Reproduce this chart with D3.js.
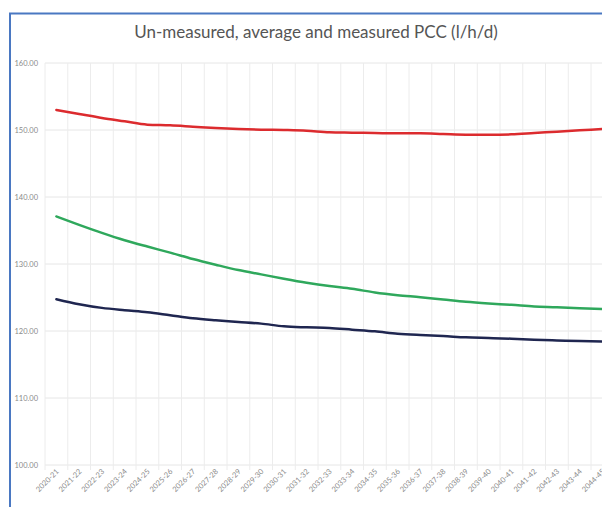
<!DOCTYPE html>
<html>
<head>
<meta charset="utf-8">
<script src="https://cdn.jsdelivr.net/npm/d3@7/dist/d3.min.js"></script>
<style>
  html, body { margin: 0; padding: 0; background: #fff; }
  svg { display: block; }
</style>
</head>
<body>
<svg id="chart" width="602" height="507"></svg>
<script>
// Financial years on the category axis
const years = [
  "2020-21","2021-22","2022-23","2023-24","2024-25","2025-26","2026-27","2027-28",
  "2028-29","2029-30","2030-31","2031-32","2032-33","2033-34","2034-35","2035-36",
  "2036-37","2037-38","2038-39","2039-40","2040-41","2041-42","2042-43","2043-44","2044-45"
];

// Per capita consumption, litres/head/day
const unmeasuredPCC = [
  153.0,152.4,151.8,151.3,150.8,150.7,150.5,150.3,150.15,150.05,150.0,149.9,
  149.65,149.6,149.55,149.5,149.5,149.4,149.3,149.3,149.35,149.55,149.75,149.95,150.15
];
const averagePCC = [
  137.1,135.85,134.65,133.55,132.6,131.7,130.75,129.9,129.1,128.45,127.8,127.2,
  126.7,126.3,125.75,125.35,125.05,124.7,124.35,124.1,123.9,123.65,123.55,123.4,123.3
];
const measuredPCC = [
  124.75,124.0,123.45,123.1,122.8,122.35,121.9,121.6,121.35,121.1,120.7,120.55,
  120.45,120.2,119.95,119.6,119.4,119.25,119.05,118.95,118.85,118.7,118.6,118.5,118.45
];

const yTicks = [100, 110, 120, 130, 140, 150, 160];
const titleText = "Un-measured, average and measured PCC (l/h/d)";

const seriesList = [
  { name: "Un-measured", values: unmeasuredPCC, color: "#dc2b2e" },
  { name: "Average", values: averagePCC, color: "#2fa85c" },
  { name: "Measured", values: measuredPCC, color: "#1f2650" }
];

const svg = d3.select("#chart");

svg.append("rect").attr("width", 602).attr("height", 507).attr("fill", "#fff");

// Chart frame (continues beyond the visible area on the right and bottom)
svg.append("path")
  .attr("d", "M10,520 L10,13.5 L620,13.5")
  .attr("fill", "none")
  .attr("stroke", "#4a78c2")
  .attr("stroke-width", 2);

const x = d3.scaleBand().domain(years).range([45, 613.75]).paddingInner(0).paddingOuter(0);
const y = d3.scaleLinear().domain([100, 160]).range([465, 63]);

const grid = svg.append("g");

// Horizontal gridlines
grid.selectAll("line.h").data(yTicks).join("line")
  .attr("x1", 45).attr("x2", 620)
  .attr("y1", d => y(d)).attr("y2", d => y(d))
  .attr("stroke", "#e6e6e6").attr("stroke-width", 1);

// Vertical gridlines at category boundaries
const bounds = years.map(d => x(d)).concat([x(years[years.length - 1]) + x.bandwidth()]);
grid.selectAll("line.v").data(bounds).join("line")
  .attr("x1", d => d).attr("x2", d => d)
  .attr("y1", y(160)).attr("y2", y(100) + 5)
  .attr("stroke", "#ececec").attr("stroke-width", 1);

// Y axis labels
svg.append("g").selectAll("text").data(yTicks).join("text")
  .attr("x", 38).attr("y", d => y(d) + 2.5)
  .attr("text-anchor", "end")
  .attr("font-family", "Lato, 'Open Sans', sans-serif")
  .attr("font-size", 7.5)
  .attr("fill", "#8a8a8a")
  .text(d => d3.format(".2f")(d));

// X axis labels, rotated
svg.append("g").selectAll("text").data(years).join("text")
  .attr("transform", d => `translate(${x(d) + x.bandwidth() / 2 + 3},${y(100) + 7}) rotate(-45)`)
  .attr("text-anchor", "end")
  .attr("font-family", "Lato, 'Open Sans', sans-serif")
  .attr("font-size", 7.5)
  .attr("fill", "#8a8a8a")
  .text(d => d);

// Series lines
const line = d3.line()
  .x((d, i) => x(years[i]) + x.bandwidth() / 2)
  .y(d => y(d))
  .curve(d3.curveMonotoneX);

svg.append("g").selectAll("path").data(seriesList).join("path")
  .attr("d", s => line(s.values))
  .attr("fill", "none")
  .attr("stroke", s => s.color)
  .attr("stroke-width", 2.5)
  .attr("stroke-linejoin", "round")
  .attr("stroke-linecap", "round");

// Title
svg.append("text")
  .attr("x", 316).attr("y", 38)
  .attr("text-anchor", "middle")
  .attr("font-family", "Lato, 'Open Sans', sans-serif")
  .attr("font-size", 17)
  .attr("fill", "#555555")
  .text(titleText);
</script>
</body>
</html>
